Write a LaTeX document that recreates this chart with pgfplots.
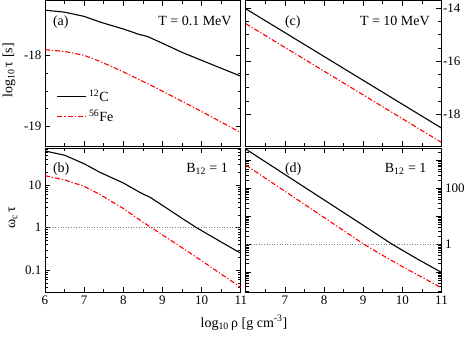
\documentclass[border=0pt]{standalone}
\usepackage{fontspec}
\setmainfont{Liberation Serif}
\usepackage{pgfplots}
\pgfplotsset{compat=1.18}

\definecolor{fered}{RGB}{255,0,0}

\tikzset{
  cline/.style={black, line width=1.1pt},
  fline/.style={fered, line width=1.1pt, dash pattern=on 5pt off 2pt on 1.2pt off 2pt},
  lbl/.style={font=\fontsize{14}{14}\selectfont, inner sep=0pt},
}

\pgfplotsset{
  panel/.style={
    scale only axis,
    width=195.8pt,
    xmin=6, xmax=11, xtick={6,7,8,9,10,11}, minor x tick num=1,
    tick align=inside, major tick length=5pt, minor tick length=3pt,
    axis line style={line width=0.8pt},
    every tick/.style={black, line width=0.6pt},
    tick label style={font=\fontsize{13}{13}\selectfont},
    /pgf/number format/assume math mode=true,
    anchor=south west,
  },
}

\begin{document}
\begin{tikzpicture}
% (a)
\begin{axis}[panel, at={(45pt,192pt)}, height=145.5pt,
  ymin=-19.286, ymax=-17.214,
  ytick={-19,-18}, yticklabels={-19,-18}, minor y tick num=3,
  xticklabels={},
  ylabel={log\textsubscript{10}\,τ [s]},
  ylabel style={font=\fontsize{14}{14}\selectfont, at={(axis description cs:-0.184,0.52)}, anchor=center},
  legend style={draw=none, fill=none, at={(rel axis cs:0.06,0.40)}, anchor=north west,
    font=\fontsize{14}{14}\selectfont, row sep=3pt, inner sep=0pt},
  legend cell align=left,
  legend image code/.code={\draw[#1] (0pt,0pt) -- (29pt,0pt);},
]
\addplot[cline] coordinates {
(6.0,-17.352) (6.5,-17.38) (7.0,-17.44) (7.4,-17.52) (8.0,-17.62) (8.42,-17.70)
(8.52,-17.712) (8.63,-17.73) (9.0,-17.823) (9.53,-17.96) (10.0,-18.066) (10.5,-18.179) (11.0,-18.292)};
\addlegendentry{\textsuperscript{12}C}
\addplot[fline] coordinates {
(6.0,-17.914) (6.5,-17.94) (7.0,-17.995) (7.4,-18.08) (8.0,-18.23) (8.68,-18.414)
(9.0,-18.505) (9.5,-18.65) (10.0,-18.795) (10.5,-18.945) (11.0,-19.095)};
\addlegendentry{\textsuperscript{56}Fe}
\node[lbl, anchor=base west] at (rel axis cs:0.04,0.825) {(a)};
\node[lbl, anchor=base east] at (rel axis cs:0.954,0.825) {T = 0.1 MeV};
\end{axis}

% (c)
\begin{axis}[panel, at={(245.7pt,192pt)}, height=145.5pt,
  ymin=-19.195, ymax=-13.72,
  ytick={-18,-16,-14}, yticklabels={-18,-16,-14}, minor y tick num=3,
  yticklabel pos=right,
  yticklabel style={xshift=-2pt},
  xticklabels={},
]
\addplot[cline] coordinates {(6,-14.03) (8.5,-16.275) (11,-18.52)};
\addplot[fline] coordinates {(6,-14.59) (8.5,-16.825) (11,-19.06)};
\node[lbl, anchor=base west] at (rel axis cs:0.20,0.825) {(c)};
\node[lbl, anchor=base east] at (rel axis cs:0.941,0.825) {T = 10 MeV};
\end{axis}

% (b)
\begin{axis}[panel, at={(45pt,46pt)}, height=144pt,
  ymode=log, ymin=0.031, ymax=74,
  ytick={0.1,1,10}, yticklabels={0.1,1,10},
  minor ytick={0.04,0.05,0.06,0.07,0.08,0.09,0.2,0.3,0.4,0.5,0.6,0.7,0.8,0.9,2,3,4,5,6,7,8,9,20,30,40,50,60,70},
  xticklabels={6,7,8,9,10,11},
  ylabel={ω\textsubscript{c}\,τ},
  ylabel style={font=\fontsize{14}{14}\selectfont, at={(axis description cs:-0.163,0.517)}, anchor=center},
]
\addplot[gray, dotted, line width=0.6pt] coordinates {(6,1) (11,1)};
\addplot[cline] coordinates {
(6.0,63.1) (6.5,50.1) (7.0,31.6) (7.4,19.95) (8.0,11.2) (8.42,6.76) (8.55,5.89) (8.68,5.19)
(9.0,3.33) (9.5,1.66) (9.87,1.0) (10.5,0.461) (11.0,0.251)};
\addplot[fline] coordinates {
(6.0,16.6) (6.5,13.2) (7.0,9.33) (7.4,6.03) (8.0,2.82) (8.5,1.35) (8.72,1.0)
(9.0,0.676) (9.5,0.339) (10.0,0.168) (10.5,0.0813) (11.0,0.0398)};
\node[lbl, anchor=base west] at (rel axis cs:0.04,0.833) {(b)};
\node[lbl, anchor=base east] at (rel axis cs:0.935,0.833) {B\textsubscript{12} = 1};
\end{axis}

% (d)
\begin{axis}[panel, at={(245.7pt,46pt)}, height=144pt,
  ymode=log, ymin=0.0195, ymax=2800,
  ytick={0.1,1,10,100,1000}, yticklabels={,1,,100,},
  minor ytick={0.02,0.03,0.04,0.05,0.06,0.07,0.08,0.09,0.2,0.3,0.4,0.5,0.6,0.7,0.8,0.9,2,3,4,5,6,7,8,9,20,30,40,50,60,70,80,90,200,300,400,500,600,700,800,900,2000},
  yticklabel pos=right,
  xticklabels={,7,8,9,10,11},
]
\addplot[gray, dotted, line width=0.6pt] coordinates {(6,1) (11,1)};
\addplot[cline] coordinates {
(6.0,2570) (7.0,316) (8.0,38.9) (9.0,4.79) (9.74,1.0) (10.4,0.288) (11.0,0.098)};
\addplot[fline] coordinates {
(6.0,692) (7.0,79.4) (8.0,9.12) (9.02,1.0) (9.5,0.398) (10.0,0.158) (10.5,0.0661) (11.0,0.0275)};
\node[lbl, anchor=base west] at (rel axis cs:0.20,0.833) {(d)};
\node[lbl, anchor=base east] at (rel axis cs:0.924,0.833) {B\textsubscript{12} = 1};
\end{axis}

\node[font=\fontsize{14}{14}\selectfont, anchor=base] at (244pt,11pt) {log\textsubscript{10}\,ρ [g cm\textsuperscript{-3}]};

\pgfresetboundingbox
\path[use as bounding box] (0pt,0pt) rectangle (469pt,338pt);
\end{tikzpicture}
\end{document}
